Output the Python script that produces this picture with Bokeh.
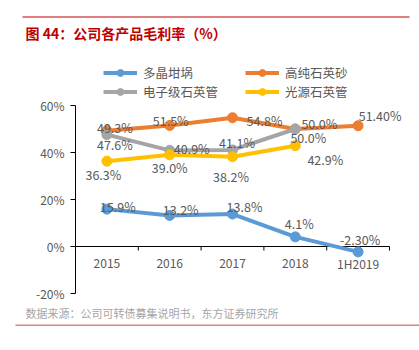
import math
from bokeh.plotting import figure
from bokeh.models import (Range1d, Legend, LegendItem, Label, BoxAnnotation)
from bokeh.core.properties import value
from bokeh.embed import file_html
from bokeh.resources import INLINE

# ---- data ----
categories = ["2015", "2016", "2017", "2018", "1H2019"]
crucible = [15.9, 13.2, 13.8, 4.1, -2.3]            # 多晶坩埚
quartz_sand = [49.3, 51.5, 54.8, 50.0, 51.4]        # 高纯石英砂
elec_tube = [47.6, 40.9, 41.1, 50.0]                # 电子级石英管
light_tube = [36.3, 39.0, 38.2, 42.9]               # 光源石英管
crucible_text = ["15.9%", "13.2%", "13.8%", "4.1%", "-2.30%"]
quartz_sand_text = ["49.3%", "51.5%", "54.8%", "50.0%", "51.40%"]
elec_tube_text = ["47.6%", "40.9%", "41.1%", "50.0%"]
light_tube_text = ["36.3%", "39.0%", "38.2%", "42.9%"]
y_ticks = [-20, 0, 20, 40, 60]
y_tick_labels = ["-20%", "0%", "20%", "40%", "60%"]
series_names = ["多晶坩埚", "高纯石英砂", "电子级石英管", "光源石英管"]
title_text = "图 44：公司各产品毛利率（%）"
source_text = "数据来源：公司可转债募集说明书，东方证券研究所"

# ---- layout (pixels) ----
W, H = 419, 350
AX_LEFT, AX_RIGHT = 75, 389       # plot area x extent
AX_TOP, AX_BOTTOM = 105, 293      # plot area y extent (60% .. -20%)

# ---- label offsets (px) ----
crucible_off = [(11, -2.5), (11, -6), (12, -7.5), (4, -13), (2, -12)]
quartz_off = [(8, -3), (1, -5), (32, 3), (24, -5.5), (22, -10)]
elec_off = [(8, 10), (22, -2), (4.5, -7), (13, 8.5)]
light_off = [(-3.5, 13), (0, 12.5), (-1.5, 20), (30, 14)]

FONT = "Noto Sans CJK SC"
LABEL_COLOR = "#595959"

n = len(categories)
xs = [i + 0.5 for i in range(n)]
ymin, ymax = y_ticks[0], y_ticks[-1]
px_x = (AX_RIGHT - AX_LEFT) / n
px_y = (AX_BOTTOM - AX_TOP) / (ymax - ymin)
x_range = Range1d(-AX_LEFT / px_x, (W - AX_LEFT) / px_x)
y_range = Range1d(ymin - (H - AX_BOTTOM) / px_y, ymax + AX_TOP / px_y)

p = figure(width=W, height=H, x_range=x_range, y_range=y_range,
           output_backend="svg", toolbar_location=None,
           x_axis_location=None, y_axis_location=None,
           min_border=0)
p.outline_line_color = None
p.grid.visible = False
p.background_fill_color = "white"
p.border_fill_color = "white"

# ---- axes drawn by hand ----
# y axis
p.segment(x0=[0], y0=[ymin], x1=[0], y1=[ymax], line_color="black", line_width=1)
p.ray(x=[0] * len(y_ticks), y=y_ticks, length=5, length_units="screen", angle=math.pi,
      line_color="black", line_width=1)
p.text(x=[0] * len(y_ticks), y=y_ticks, text=y_tick_labels, x_offset=-11,
       text_align="right", text_baseline="middle",
       text_font=value(FONT), text_font_size="12px", text_color=LABEL_COLOR)
# x axis at 0
p.segment(x0=[0], y0=[0], x1=[n], y1=[0], line_color="black", line_width=1)
p.ray(x=list(range(n + 1)), y=[0] * (n + 1), length=4, length_units="screen",
      angle=-math.pi / 2, line_color="black", line_width=1)
p.text(x=xs, y=[0] * n, text=categories, y_offset=17,
       text_align="center", text_baseline="middle",
       text_font=value(FONT), text_font_size="12px", text_color=LABEL_COLOR)

series = [
    (crucible, crucible_text, crucible_off, "#5B9BD5"),
    (quartz_sand, quartz_sand_text, quartz_off, "#ED7D31"),
    (elec_tube, elec_tube_text, elec_off, "#A5A5A5"),
    (light_tube, light_tube_text, light_off, "#FFC000"),
]
renderers = []
for vals, txt, off, col in series:
    x = xs[:len(vals)]
    l = p.line(x, vals, line_color=col, line_width=4)
    s = p.scatter(x, vals, size=10, fill_color=col, line_color=col)
    renderers.append((l, s))

for vals, txt, off, col in series:
    x = xs[:len(vals)]
    p.text(x=x, y=vals, text=txt,
           x_offset=[o[0] for o in off], y_offset=[o[1] for o in off],
           text_align="center", text_baseline="middle",
           text_font=value(FONT), text_font_size="12.5px", text_color=LABEL_COLOR)

order = [0, 2, 1, 3]
legend = Legend(items=[LegendItem(label=series_names[i], renderers=list(renderers[i])) for i in order],
                location=(103, H - 101), nrows=2,
                border_line_color=None, background_fill_alpha=0,
                padding=0, margin=0, spacing=0,
                glyph_width=34, glyph_height=17, label_height=17, label_width=102,
                label_standoff=6,
                label_text_font=FONT, label_text_font_size="12.5px",
                label_text_color=LABEL_COLOR)
p.add_layout(legend)

p.add_layout(Label(x=25, y=32, x_units="canvas", y_units="canvas", text=title_text,
                   text_font=FONT, text_font_size="14px", text_font_style="bold",
                   text_color="#C00000", text_baseline="middle"))
p.add_layout(Label(x=25, y=312, x_units="canvas", y_units="canvas", text=source_text,
                   text_font=FONT, text_font_size="11px",
                   text_color="#A6A6A6", text_baseline="middle"))
p.add_layout(BoxAnnotation(left=22, right=409, top=16, bottom=17,
                           left_units="canvas", right_units="canvas",
                           top_units="canvas", bottom_units="canvas",
                           fill_color="#C00000", fill_alpha=1, line_color=None))
p.add_layout(BoxAnnotation(left=15, right=419, top=324, bottom=325.5,
                           left_units="canvas", right_units="canvas",
                           top_units="canvas", bottom_units="canvas",
                           fill_color="#E08080", fill_alpha=1, line_color=None))

open("out.html", "w").write(file_html(p, INLINE))
